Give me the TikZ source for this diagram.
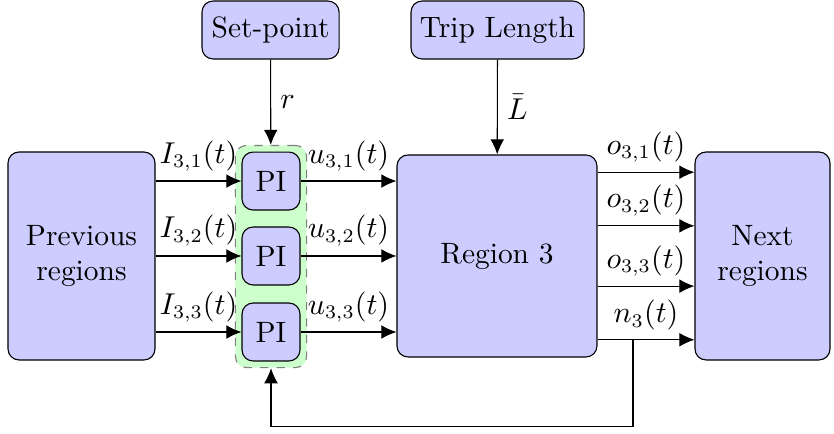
\documentclass[tikz,border=0pt]{standalone}
\usepackage{amsmath}
\usepackage{tikz}
\usetikzlibrary{arrows.meta,positioning,fit,backgrounds,calc}

\begin{document}
\begin{tikzpicture}[x=1cm,y=1cm,font=\fontsize{10.7}{12.9}\selectfont,
  blk/.style={draw,fill=blue!20,rounded corners=4pt,align=center,inner sep=2pt},
  sig/.style={-{Latex[length=5.5pt,width=5pt]}}]
\useasboundingbox (0,0) rectangle (10.651,5.530);

\node[blk,minimum width=1.877cm,minimum height=2.656cm] (prev) at (1.041,2.261) {Previous\\regions};
\node[blk,minimum size=0.74cm] (pi1) at (3.461,3.218) {PI};
\node[blk,minimum size=0.74cm] (pi2) at (3.461,2.261) {PI};
\node[blk,minimum size=0.74cm] (pi3) at (3.461,1.290) {PI};
\node[blk,minimum width=2.554cm,minimum height=2.580cm] (reg) at (6.347,2.261) {Region 3};
\node[blk,minimum width=1.724cm,minimum height=2.656cm] (next) at (9.738,2.261) {Next\\regions};
\node[blk,minimum width=1.75cm,minimum height=0.74cm] (sp) at (3.455,5.147) {Set-point};
\node[blk,minimum width=2.21cm,minimum height=0.74cm] (tl) at (6.354,5.147) {Trip Length};

\begin{scope}[on background layer]
\node[draw=gray,dashed,fill=green!20,rounded corners=4pt,inner sep=2.2pt,fit=(pi1)(pi2)(pi3)] (grp) {};
\end{scope}

\draw[sig] (sp) -- (grp) node[midway,right] {$r$};
\draw[sig] (tl) -- (reg) node[midway,right] {$\bar{L}$};

\draw[sig] (prev.east|-pi1) -- (pi1) node[midway,above] {$I_{3,1}(t)$};
\draw[sig] (prev.east|-pi2) -- (pi2) node[midway,above] {$I_{3,2}(t)$};
\draw[sig] (prev.east|-pi3) -- (pi3) node[midway,above] {$I_{3,3}(t)$};
\draw[sig] (pi1) -- (reg.west|-pi1) node[midway,above] {$u_{3,1}(t)$};
\draw[sig] (pi2) -- (reg.west|-pi2) node[midway,above] {$u_{3,2}(t)$};
\draw[sig] (pi3) -- (reg.west|-pi3) node[midway,above] {$u_{3,3}(t)$};

\draw[sig] ([yshift=1.07cm]reg.east) -- ([yshift=1.07cm]next.west) node[midway,above] {$o_{3,1}(t)$};
\draw[sig] ([yshift=0.385cm]reg.east) -- ([yshift=0.385cm]next.west) node[midway,above] {$o_{3,2}(t)$};
\draw[sig] ([yshift=-0.385cm]reg.east) -- ([yshift=-0.385cm]next.west) node[midway,above] {$o_{3,3}(t)$};
\draw[sig] ([yshift=-1.07cm]reg.east) coordinate (nout) -- ([yshift=-1.07cm]next.west) node[midway,above] {$n_3(t)$};

% feedback of n_3 to the controllers
\coordinate (fb) at (8.084,0.089);
\draw[sig] (nout -| fb) -- (fb) -| (grp.south);
\end{tikzpicture}
\end{document}
